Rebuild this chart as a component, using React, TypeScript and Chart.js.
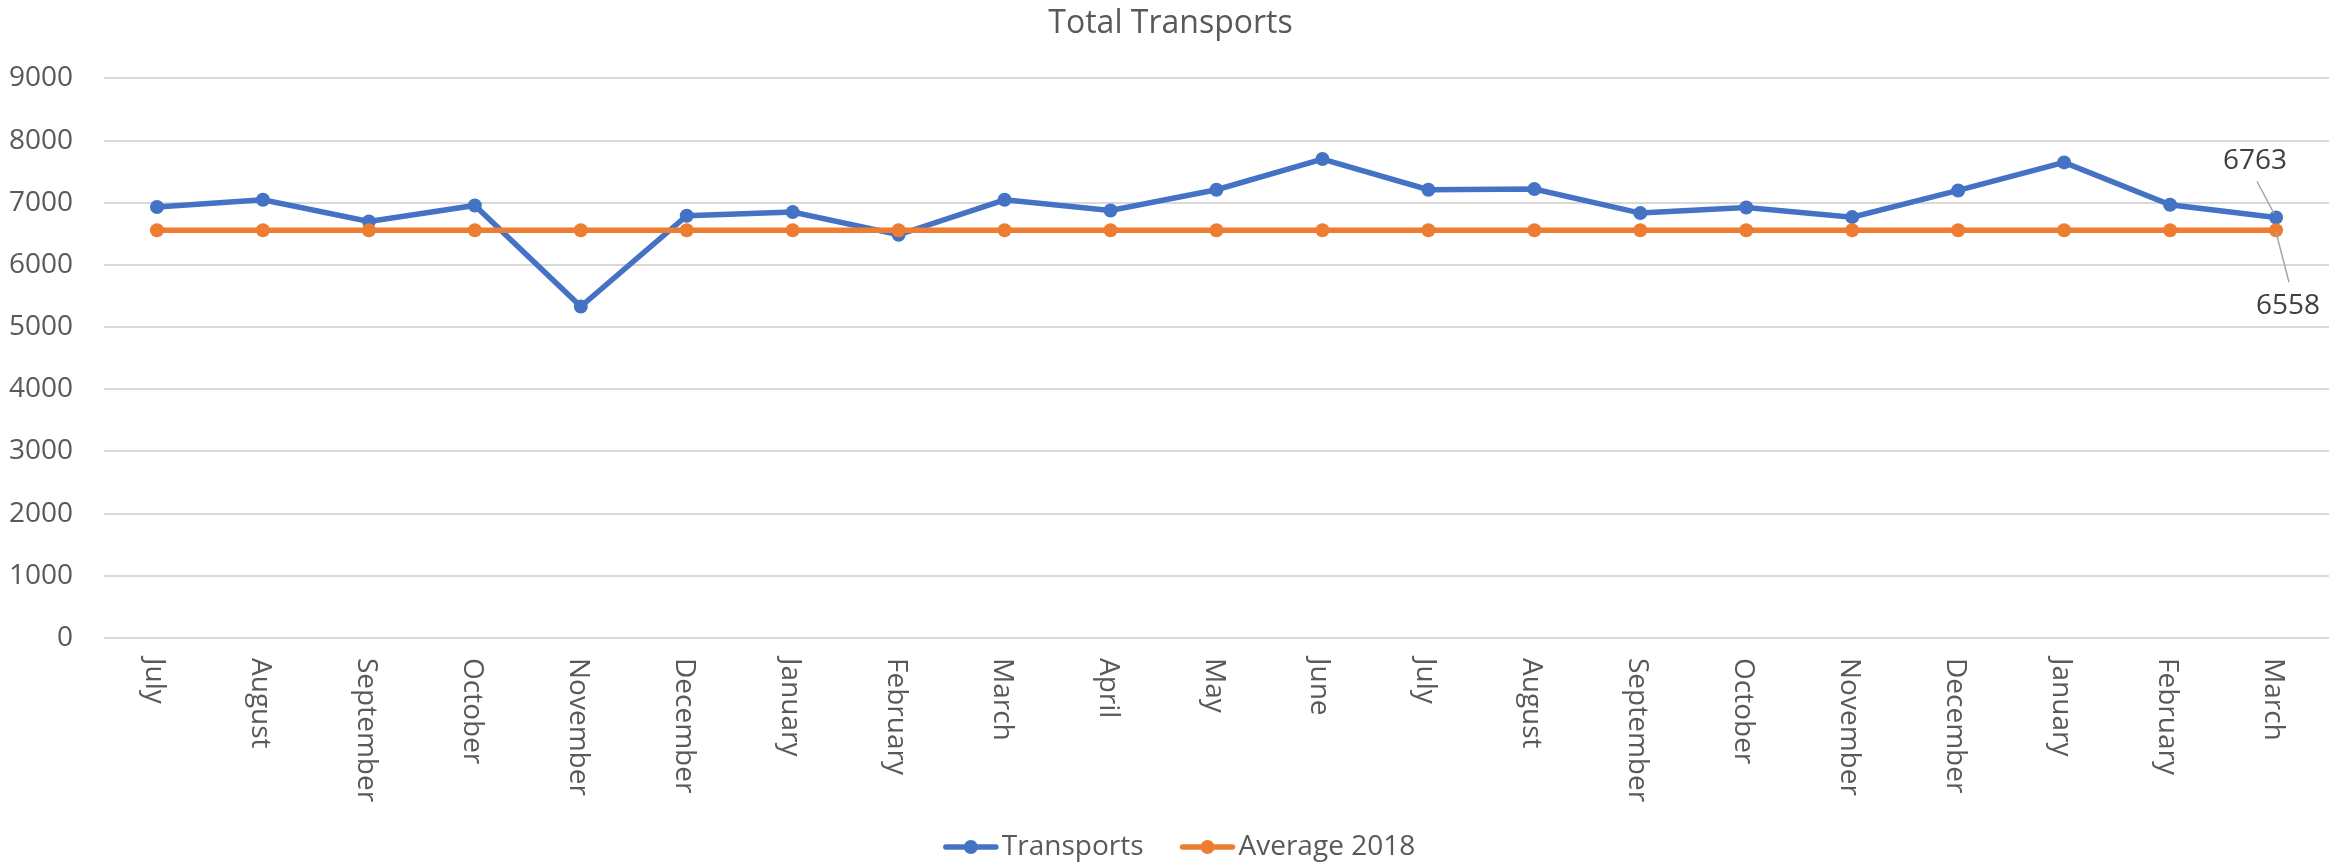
import React, { useEffect, useRef } from 'react';
import { Chart, registerables } from 'chart.js';

Chart.register(...registerables);

const categories = [
  'July', 'August', 'September', 'October', 'November', 'December', 'January',
  'February', 'March', 'April', 'May', 'June', 'July', 'August', 'September',
  'October', 'November', 'December', 'January', 'February', 'March',
];

const transports = [
  6931, 7048, 6699, 6957, 5330, 6791, 6850, 6485, 7048, 6876, 7209,
  7703, 7209, 7220, 6834, 6924, 6769, 7198, 7649, 6968, 6763,
];

const average2018 = [
  6558, 6558, 6558, 6558, 6558, 6558, 6558, 6558, 6558, 6558, 6558,
  6558, 6558, 6558, 6558, 6558, 6558, 6558, 6558, 6558, 6558,
];

const seriesNames = ['Transports', 'Average 2018'];
const seriesColors = ['#4472C4', '#ED7D31'];
const chartTitle = 'Total Transports';
const yMin = 0;
const yMax = 9000;
const yStep = 1000;

const FONT = "'Open Sans', sans-serif";
const TEXT = '#595959';

const xLabelPlugin = {
  id: 'xLabelsClockwise',
  afterDraw(chart: any) {
    const xs = chart.scales.x;
    const ctx = chart.ctx;
    ctx.save();
    ctx.font = `28px ${FONT}`;
    ctx.fillStyle = TEXT;
    ctx.textAlign = 'left';
    ctx.textBaseline = 'middle';
    categories.forEach((lab, i) => {
      const x = xs.getPixelForTick(i);
      ctx.save();
      ctx.translate(x - 3, xs.top + 20);
      ctx.rotate(Math.PI / 2);
      ctx.fillText(lab, 0, 0);
      ctx.restore();
    });
    ctx.restore();
  },
};

const valueLabelPlugin = {
  id: 'lastValueLabels',
  afterDatasetsDraw(chart: any) {
    const ctx = chart.ctx;
    const last = categories.length - 1;
    const pBlue = chart.getDatasetMeta(0).data[last];
    const pOrange = chart.getDatasetMeta(1).data[last];
    ctx.save();
    ctx.strokeStyle = '#A6A6A6';
    ctx.lineWidth = 1.5;
    ctx.beginPath();
    ctx.moveTo(pBlue.x - 19, pBlue.y - 36);
    ctx.lineTo(pBlue.x - 2, pBlue.y - 4);
    ctx.moveTo(pOrange.x, pOrange.y + 2);
    ctx.lineTo(pOrange.x + 13, pOrange.y + 52);
    ctx.stroke();
    ctx.font = `28px ${FONT}`;
    ctx.fillStyle = '#404040';
    ctx.textAlign = 'center';
    ctx.textBaseline = 'middle';
    ctx.fillText(String(transports[last]), pBlue.x - 21, pBlue.y - 56);
    ctx.fillText(String(average2018[last]), pOrange.x + 12, pOrange.y + 76);
    ctx.restore();
  },
};

const legendPlugin = {
  id: 'excelLegend',
  afterDraw(chart: any) {
    const ctx = chart.ctx;
    ctx.save();
    ctx.font = `28px ${FONT}`;
    const lineLen = 56;
    const gapText = 3;
    const gapItem = 36;
    const widths = seriesNames.map((n) => ctx.measureText(n).width);
    const total = widths.reduce((a, w) => a + lineLen + gapText + w, 0) + gapItem * (seriesNames.length - 1);
    let x = chart.width / 2 + 11 - total / 2;
    const y = 847;
    seriesNames.forEach((name, i) => {
      ctx.strokeStyle = seriesColors[i];
      ctx.lineWidth = 5.5;
      ctx.lineCap = 'round';
      ctx.beginPath();
      ctx.moveTo(x + 3, y);
      ctx.lineTo(x + lineLen - 3, y);
      ctx.stroke();
      ctx.fillStyle = seriesColors[i];
      ctx.beginPath();
      ctx.arc(x + lineLen / 2, y, 7, 0, Math.PI * 2);
      ctx.fill();
      ctx.fillStyle = TEXT;
      ctx.textAlign = 'left';
      ctx.textBaseline = 'middle';
      ctx.fillText(name, x + lineLen + gapText, y);
      x += lineLen + gapText + widths[i] + gapItem;
    });
    ctx.restore();
  },
};

export default function App() {
  const canvasRef = useRef<HTMLCanvasElement | null>(null);

  useEffect(() => {
    if (!canvasRef.current) return;
    Chart.defaults.font.family = FONT;
    const chart = new Chart(canvasRef.current, {
      type: 'line',
      data: {
        labels: categories,
        datasets: [
          {
            label: seriesNames[0],
            data: transports,
            borderColor: seriesColors[0],
            backgroundColor: seriesColors[0],
            borderWidth: 5.5,
            pointRadius: 7,
            pointBorderWidth: 0,
            pointBackgroundColor: seriesColors[0],
            tension: 0,
            order: 1,
          },
          {
            label: seriesNames[1],
            data: average2018,
            borderColor: seriesColors[1],
            backgroundColor: seriesColors[1],
            borderWidth: 5.5,
            pointRadius: 7,
            pointBorderWidth: 0,
            pointBackgroundColor: seriesColors[1],
            tension: 0,
            order: 0,
          },
        ],
      },
      options: {
        animation: false,
        responsive: true,
        maintainAspectRatio: false,
        layout: { padding: { left: 9, right: 4, top: 0, bottom: 63 } },
        plugins: {
          legend: { display: false },
          tooltip: { enabled: false },
          title: {
            display: true,
            text: chartTitle,
            color: TEXT,
            font: { size: 32, weight: 'normal', family: FONT },
            padding: { top: 5, bottom: 35 },
          },
        },
        scales: {
          x: {
            type: 'category',
            offset: true,
            grid: { display: false, drawTicks: false },
            border: { display: false },
            afterFit: (scale: any) => {
              scale.height = 164;
            },
            ticks: {
              display: false,
              autoSkip: false,
              font: { size: 28, family: FONT },
            },
          },
          y: {
            min: yMin,
            max: yMax,
            grid: { color: '#D9D9D9', lineWidth: 2, drawTicks: false },
            border: { display: false },
            afterFit: (scale: any) => {
              scale.width = 95;
            },
            ticks: {
              stepSize: yStep,
              padding: 31,
              color: TEXT,
              font: { size: 28, family: FONT },
              callback: (v: any) => String(v),
            },
          },
        },
      },
      plugins: [xLabelPlugin, valueLabelPlugin, legendPlugin],
    });
    return () => chart.destroy();
  }, []);

  return (
    <div style={{ position: 'fixed', left: 0, top: 0, width: '2336px', height: '865px' }}>
      <canvas ref={canvasRef} />
    </div>
  );
}
